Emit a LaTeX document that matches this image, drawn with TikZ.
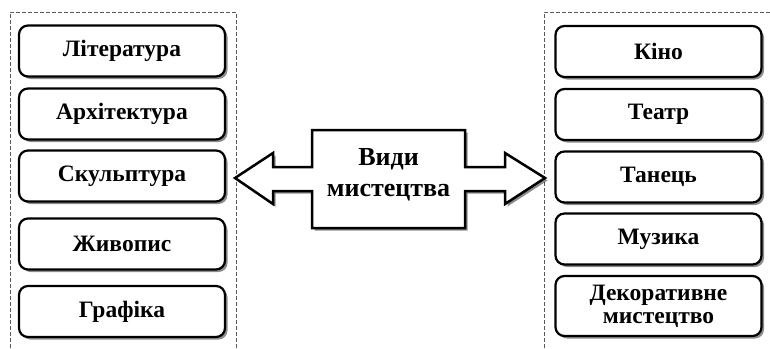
\documentclass[tikz,border=0pt]{standalone}
\usepackage{fontspec}
\setmainfont{Liberation Serif}
\usetikzlibrary{shadows}
\begin{document}
\begin{tikzpicture}[x=1pt,y=-1pt,
  myshadow/.style={drop shadow={shadow xshift=2.5pt,shadow yshift=-2.5pt,fill=black,opacity=0.45}},
  item/.style={draw=black,line width=2.2pt,rounded corners=9pt,fill=white,
    minimum width=206pt,minimum height=51pt,inner sep=0pt,
    font=\bfseries\fontsize{23.5}{23}\selectfont,align=center,myshadow},
  frame/.style={draw=gray!70!black,dash pattern=on 4pt off 2pt,line width=0.8pt}]
\useasboundingbox (0,0) rectangle (770,348);
% dashed frames
\draw[frame] (10,348) -- (10,12) -- (236,12) -- (236,348);
\draw[frame] (544,348) -- (544,12) -- (770,12);
% left items
\node[item] (lit) at (122,51) {Література};
\node[item] (arch) at (122,114) {Архітектура};
\node[item] (skul) at (122,176) {Скульптура};
\node[item] (zhyv) at (122,244) {Живопис};
\node[item] (graf) at (122,311.5) {Графіка};
% right items
\node[item] (kino) at (658.5,51.5) {Кіно};
\node[item] (teatr) at (658.5,114.5) {Театр};
\node[item] (tanets) at (658.5,177) {Танець};
\node[item] (muz) at (658.5,239) {Музика};
\node[item,minimum height=60pt] (dek) at (658.5,306) {Декоративне\\мистецтво};
% central double arrow
\path[draw=black,line width=2.5pt,fill=white,myshadow,line join=miter]
  (235,178) -- (273,153) -- (273,167) -- (312,167) -- (312,130) -- (465,130)
  -- (465,167) -- (505,167) -- (505,153) -- (545,178) -- (505,204)
  -- (505,191) -- (465,191) -- (465,228) -- (312,228) -- (312,191)
  -- (273,191) -- (273,204) -- cycle;
\node[font=\bfseries\fontsize{26}{31}\selectfont,align=center] (center) at (388.5,175) {Види\\мистецтва};
\end{tikzpicture}
\end{document}
